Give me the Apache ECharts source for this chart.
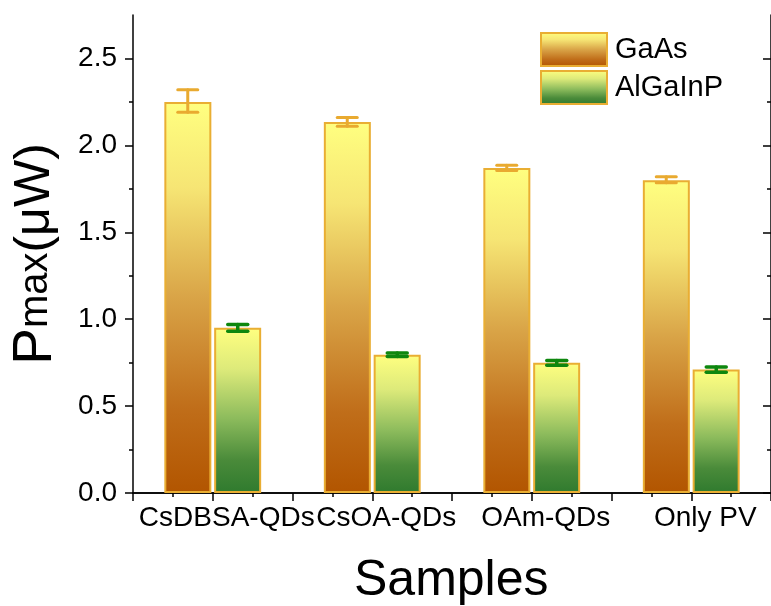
<!DOCTYPE html>
<html>
<head>
<meta charset="utf-8">
<script src="https://cdn.jsdelivr.net/npm/echarts@6/dist/echarts.min.js"></script>
<style>
html,body{margin:0;padding:0;background:#fff;}
#chart{width:771px;height:606px;}
</style>
</head>
<body>
<div id="chart"></div>
<script>
const categories = ['CsDBSA-QDs', 'CsOA-QDs', 'OAm-QDs', 'Only PV'];
const gaasValues = [2.25, 2.135, 1.87, 1.80];
const gaasErrLow = [2.19, 2.11, 1.855, 1.785];
const gaasErrHigh = [2.32, 2.16, 1.885, 1.82];
const algaValues = [0.95, 0.795, 0.75, 0.71];
const algaErrLow = [0.93, 0.785, 0.735, 0.695];
const algaErrHigh = [0.97, 0.805, 0.762, 0.725];
const yMajorTicks = [0, 0.5, 1.0, 1.5, 2.0, 2.5];
const yMinorTicks = [0.25, 0.75, 1.25, 1.75, 2.25];

const FONT = '"Liberation Sans", Arial, sans-serif';
const BORDER = '#E9AE33';

const chart = echarts.init(document.getElementById('chart'), null, {renderer: 'canvas'});

function grad(stops) {
  return new echarts.graphic.LinearGradient(0, 0, 0, 1, stops.map(s => ({offset: s[0], color: s[1]})));
}
const gaasGrad = grad([[0, '#FFFF80'], [0.22, '#F6E574'], [0.5, '#D9A447'], [0.78, '#C06E1A'], [1, '#B25500']]);
const algaGrad = grad([[0, '#FFFF80'], [0.25, '#DDEA7A'], [0.55, '#8CBB5C'], [0.8, '#4A8B3A'], [1, '#2F7A2E']]);

function errSeries(name, low, high, offset, color, lw) {
  return {
    name: name,
    type: 'custom',
    xAxisIndex: 0,
    yAxisIndex: 0,
    z: 5,
    data: categories.map((c, i) => [i, low[i], high[i]]),
    encode: {x: 0, y: [1, 2]},
    renderItem: function (params, api) {
      const c = api.value(0);
      const lo = api.coord([c, api.value(1)]);
      const hi = api.coord([c, api.value(2)]);
      const x = lo[0] + offset;
      const hw = 10;
      const st = {stroke: color, lineWidth: lw, lineCap: 'round'};
      return {
        type: 'group',
        children: [
          {type: 'line', shape: {x1: x, y1: lo[1], x2: x, y2: hi[1]}, style: st},
          {type: 'line', shape: {x1: x - hw, y1: lo[1], x2: x + hw, y2: lo[1]}, style: st},
          {type: 'line', shape: {x1: x - hw, y1: hi[1], x2: x + hw, y2: hi[1]}, style: st}
        ]
      };
    }
  };
}

const axisLineStyle = {color: '#000', width: 1.5};

const option = {
  animation: false,
  backgroundColor: '#fff',
  grid: {left: 130, top: 15, width: 646, height: 478, containLabel: false},
  legend: {
    data: ['GaAs', 'AlGaInP'],
    orient: 'vertical',
    left: 540,
    top: 32,
    padding: 0,
    icon: 'rect',
    itemWidth: 66,
    itemHeight: 33,
    itemGap: 3,
    textStyle: {fontSize: 29, fontFamily: FONT, color: '#000', padding: [0, 0, 0, 3]}
  },
  xAxis: [
    {
      type: 'category', data: categories, position: 'bottom',
      axisLine: {show: false}, axisTick: {show: false},
      axisLabel: {interval: 0, hideOverlap: false, fontSize: 28, fontFamily: FONT, color: '#000', margin: 11, padding: [0, 0, 0, 28]}
    },
    {
      type: 'value', position: 'bottom', min: 0.5, max: 4.5, interval: 0.5,
      axisLine: {show: true, lineStyle: axisLineStyle},
      axisTick: {show: true, inside: false, length: 8, lineStyle: {color: '#000', width: 1.5}},
      minorTick: {show: true, splitNumber: 2, length: 4, lineStyle: {color: '#000', width: 1.5}},
      axisLabel: {show: false}, splitLine: {show: false}
    },
    {
      type: 'value', position: 'top', min: 0.5, max: 4.5, interval: 0.5,
      axisLine: {show: true, lineStyle: axisLineStyle},
      axisTick: {show: true, inside: true, length: 8, lineStyle: {color: '#000', width: 1.5}},
      minorTick: {show: true, splitNumber: 2, length: 4, lineStyle: {color: '#000', width: 1.5}},
      axisLabel: {show: false}, splitLine: {show: false}
    }
  ],
  yAxis: [
    {
      type: 'value', position: 'left', min: 0, max: 2.75,
      name: '{p|P}{m|max}{u|(μW)}',
      nameLocation: 'middle', nameGap: 70, nameRotate: 90,
      nameTextStyle: {
        color: '#000', fontFamily: FONT,
        rich: {
          p: {fontSize: 55, fontFamily: FONT, color: '#000'},
          m: {fontSize: 40, fontFamily: FONT, color: '#000'},
          u: {fontSize: 50, fontFamily: FONT, color: '#000'}
        }
      },
      axisLine: {show: true, lineStyle: axisLineStyle},
      axisTick: {show: true, inside: false, length: 8, customValues: yMajorTicks, lineStyle: {color: '#000', width: 1.5}},
      axisLabel: {fontSize: 28, fontFamily: FONT, color: '#000', margin: 16, customValues: yMajorTicks,
        formatter: v => v.toFixed(1)},
      splitLine: {show: false}
    },
    {
      type: 'value', position: 'left', min: 0, max: 2.75, offset: 0,
      axisLine: {show: false},
      axisTick: {show: true, inside: false, length: 4, customValues: yMinorTicks, lineStyle: {color: '#000', width: 1.5}},
      axisLabel: {show: false}, splitLine: {show: false}
    },
    {
      type: 'value', position: 'right', min: 0, max: 2.75, offset: 0,
      axisLine: {show: true, lineStyle: axisLineStyle},
      axisTick: {show: true, inside: true, length: 8, customValues: yMajorTicks, lineStyle: {color: '#000', width: 1.5}},
      axisLabel: {show: false}, splitLine: {show: false}
    },
    {
      type: 'value', position: 'right', min: 0, max: 2.75, offset: 0,
      axisLine: {show: false},
      axisTick: {show: true, inside: true, length: 4, customValues: yMinorTicks, lineStyle: {color: '#000', width: 1.5}},
      axisLabel: {show: false}, splitLine: {show: false}
    }
  ],
  series: [
    {
      name: 'GaAs', type: 'bar', xAxisIndex: 0, yAxisIndex: 0,
      data: gaasValues, barWidth: 47, barGap: '6%',
      itemStyle: {color: gaasGrad, borderColor: BORDER, borderWidth: 2}
    },
    {
      name: 'AlGaInP', type: 'bar', xAxisIndex: 0, yAxisIndex: 0,
      data: algaValues, barWidth: 47, barGap: '6%',
      itemStyle: {color: algaGrad, borderColor: BORDER, borderWidth: 2}
    },
    errSeries('GaAs err', gaasErrLow, gaasErrHigh, -25, '#E9AA30', 3),
    errSeries('AlGaInP err', algaErrLow, algaErrHigh, 25, '#0E870E', 3.5)
  ],
  graphic: [
    {
      type: 'text', left: 354, top: 556,
      style: {text: 'Samples', fontSize: 50, fontFamily: FONT, fill: '#000'}
    }
  ]
};
chart.setOption(option);
</script>
</body>
</html>
